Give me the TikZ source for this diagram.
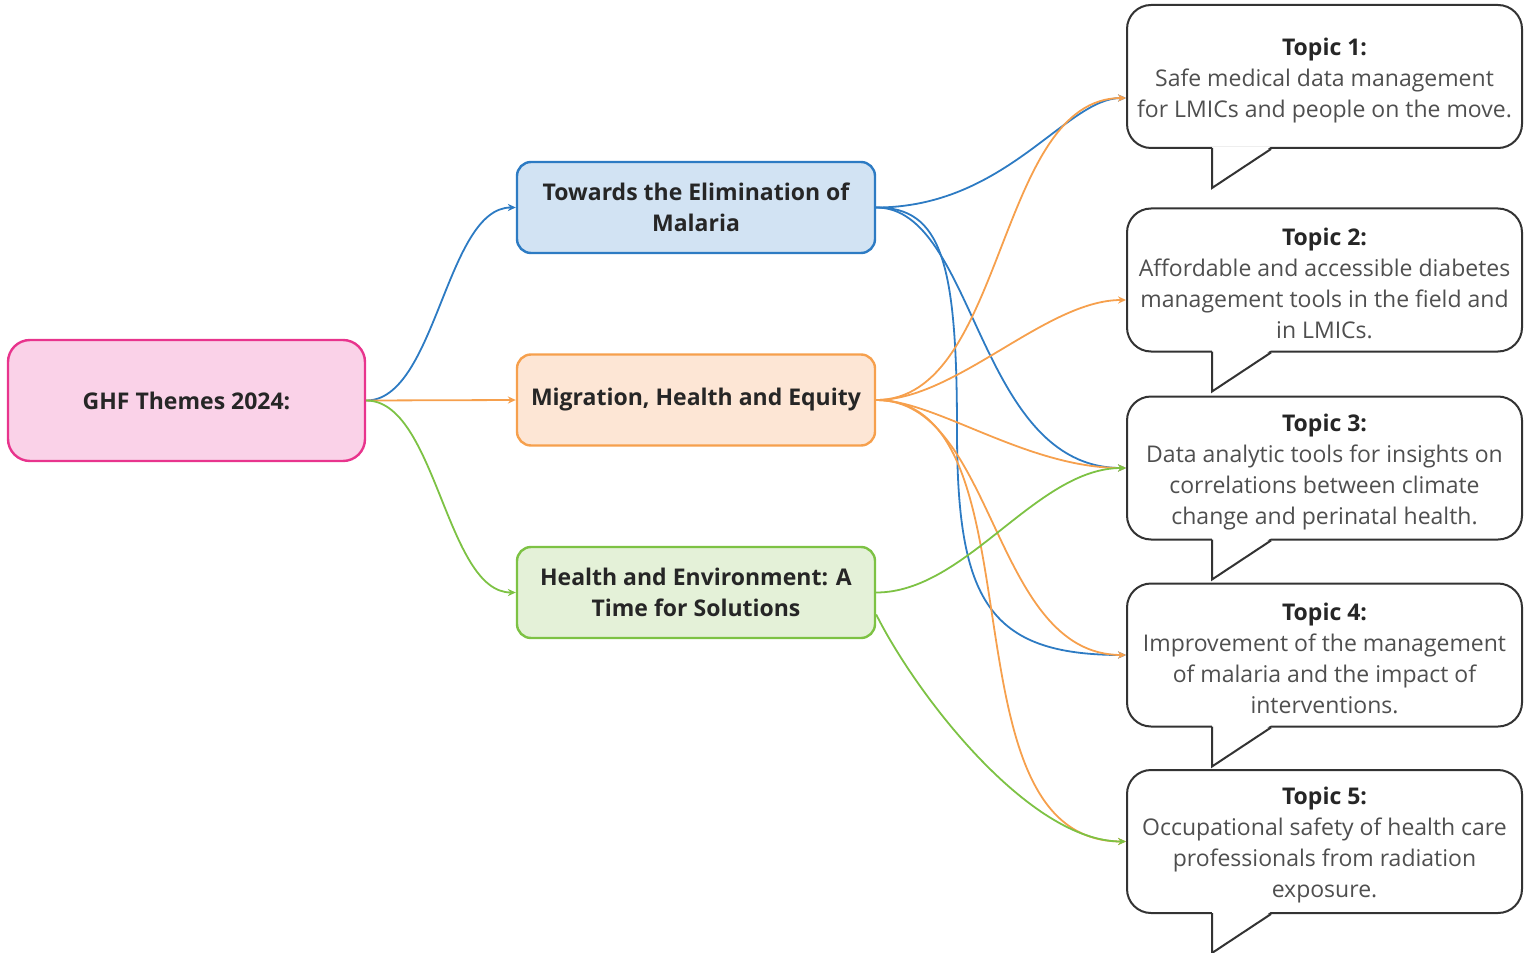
\documentclass[tikz,border=0pt]{standalone}
\usepackage{fontspec}
\setmainfont{Open Sans}
\usepackage{tikz}
\usetikzlibrary{arrows.meta,calc}
\definecolor{cRoot}{HTML}{E8348D}
\definecolor{cRootF}{HTML}{FAD2E8}
\definecolor{cMal}{HTML}{2D7BC3}
\definecolor{cMalF}{HTML}{D2E3F3}
\definecolor{cMig}{HTML}{F6A04D}
\definecolor{cMigF}{HTML}{FDE6D5}
\definecolor{cEnv}{HTML}{7DC244}
\definecolor{cEnvF}{HTML}{E4F1D8}
\definecolor{cInk}{HTML}{262626}
\definecolor{cBody}{HTML}{4F4F4F}
\definecolor{cEdge}{HTML}{333333}
\tikzset{
  box/.style    = {rounded corners=7pt, align=center, line width=1.2pt,
                   minimum width=179pt, minimum height=45.5pt, text=cInk,
                   font=\bfseries\fontsize{11.5}{15.5}\selectfont},
  rootbox/.style = {box, draw=cRoot, fill=cRootF, rounded corners=11pt,
                   minimum width=178.5pt, minimum height=60.5pt},
  malbox/.style = {box, draw=cMal, fill=cMalF},
  migbox/.style = {box, draw=cMig, fill=cMigF},
  envbox/.style = {box, draw=cEnv, fill=cEnvF},
  topic/.style  = {draw=cEdge, fill=white, rounded corners=12pt, line width=1pt,
                   align=center, minimum width=197.5pt, minimum height=71.5pt,
                   text=cBody, font=\fontsize{11.5}{15.5}\selectfont},
  tail/.style   = {draw=cEdge, line width=1pt, line join=miter},
  flow/.style   = {-{Stealth[length=4pt,width=3.6pt]}, line width=0.9pt},
  malflow/.style = {flow, draw=cMal},
  migflow/.style = {flow, draw=cMig},
  envflow/.style = {flow, draw=cEnv},
}
\newcommand{\topichead}[1]{\rule{0pt}{12.5pt}{\bfseries\color{cInk}Topic #1:}}

\begin{document}
\begin{tikzpicture}[x=0.5pt, y=-0.5pt]
  \useasboundingbox (0,0) rectangle (1529,952);

  \node[rootbox] (root) at (186.5,400.5) {GHF Themes 2024:};
  \node[malbox] (mal) at (696,207.5) {Towards the Elimination of\\Malaria};
  \node[migbox] (mig) at (696,400) {Migration, Health and Equity};
  \node[envbox] (env) at (696,592.5) {Health and Environment: A\\Time for Solutions};

  \node[topic] (t1) at (1324.5,76.5)
    {\topichead{1}\\Safe medical data management\\for LMICs and people on the move.};
  \node[topic] (t2) at (1324.5,280)
    {\topichead{2}\\Affordable and accessible diabetes\\management tools in the field and\\in LMICs.};
  \node[topic] (t3) at (1324.5,468)
    {\topichead{3}\\Data analytic tools for insights on\\correlations between climate\\change and perinatal health.};
  \node[topic] (t4) at (1324.5,655)
    {\topichead{4}\\Improvement of the management\\of malaria and the impact of\\interventions.};
  \node[topic] (t5) at (1324.5,841.5)
    {\topichead{5}\\Occupational safety of health care\\professionals from radiation\\exposure.};

  % speech-bubble tails
  \foreach \t in {t1,t2,t3,t4,t5}{
    \fill[white] ([xshift=43pt,yshift=1.2pt]\t.south west) -- ([xshift=43pt,yshift=-19.5pt]\t.south west)
      -- ([xshift=72.5pt,yshift=1.2pt]\t.south west) -- cycle;
    \draw[tail] ([xshift=43pt,yshift=0.5pt]\t.south west) -- ([xshift=43pt,yshift=-19.5pt]\t.south west)
      -- ([xshift=72.5pt]\t.south west);
  }

  % root to themes
  \draw[malflow] (root.east) .. controls +(70,0) and +(-70,0) .. (mal.west);
  \draw[migflow] (root.east) -- (mig.west);
  \draw[envflow] (root.east) .. controls +(70,0) and +(-70,0) .. (env.west);

  % themes to topics
  \draw[malflow] (mal.east) .. controls +(130,0) and +(-60,0) .. ([yshift=-10.75pt]t1.west);
  \draw[malflow] (mal.east) .. controls +(100,0) and +(-150,0) .. (t3.west);
  \draw[malflow] (mal.east) .. controls +(65,0) and +(0,-170) .. (957,431)
    .. controls +(0,170) and +(-137,0) .. (t4.west);

  \draw[migflow] (mig.east) .. controls +(130,0) and +(-130,0) .. ([yshift=-10.75pt]t1.west);
  \draw[migflow] (mig.east) .. controls +(80,0) and +(-80,0) .. ([yshift=-10pt]t2.west);
  \draw[migflow] (mig.east) .. controls +(60,0) and +(-100,0) .. (t3.west);
  \draw[migflow] (mig.east) .. controls +(120,0) and +(-135,0) .. (t4.west);
  \draw[migflow] (mig.east) .. controls +(170,0) and +(-190,0) .. (t5.west);

  \draw[envflow] (env.east) .. controls +(90,0) and +(-90,0) .. (t3.west);
  \draw[envflow] ([yshift=-11pt]env.east) .. controls +(40,80) and +(-97,0) .. (t5.west);
\end{tikzpicture}
\end{document}
